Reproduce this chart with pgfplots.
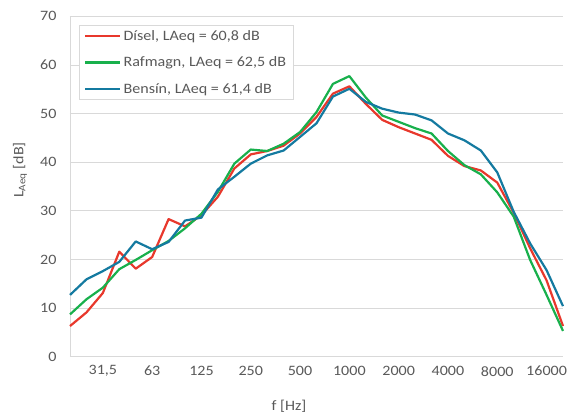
\documentclass[border=0pt]{standalone}
\usepackage{pgfplots}
\pgfplotsset{compat=1.18}
\usepackage{fontspec}
\setmainfont{Carlito}[FakeStretch=1.12]
\definecolor{cred}{RGB}{232,56,44}
\definecolor{cgreen}{RGB}{24,176,76}
\definecolor{cblue}{RGB}{20,122,160}
\definecolor{ctext}{RGB}{89,89,89}
\definecolor{cgrid}{RGB}{217,217,217}
\begin{document}
\begin{tikzpicture}
\path[use as bounding box] (-70bp,-62.3bp) rectangle (499bp,356.7bp);
\begin{axis}[
  at={(0,0)}, anchor=south west,
  scale only axis, width=493bp, height=340.4bp,
  xmin=0, xmax=30, ymin=0, ymax=70,
  xtick={2,5,8,11,14,17,20,23,26,29},
  xticklabels={{31,5},63,125,250,500,1000,2000,4000,8000,16000},
  ytick={0,10,...,70},
  ymajorgrids, grid style={cgrid, line width=0.8bp},
  axis lines=left, axis line style={cgrid, line width=0.8bp, -},
  major tick length=0pt,
  tick label style={font=\fontsize{14.4}{17}\selectfont, text=ctext},
  /pgf/number format/assume math mode=true,
  yticklabel style={anchor=east, xshift=-10bp},
  xticklabel style={anchor=center, yshift=-14.5bp},
  xlabel={f [Hz]}, ylabel={L\textsubscript{Aeq} [dB]},
  label style={font=\fontsize{14.4}{17}\selectfont, text=ctext},
  xlabel style={at={(219bp,-50bp)}, anchor=center},
  ylabel style={at={(-50bp,186.7bp)}, anchor=center},
  legend style={at={(9bp,331.7bp)}, anchor=north west, draw=cgrid, line width=0.8bp,
    font=\fontsize{14.4}{17}\selectfont, text=ctext, inner xsep=5bp, inner ysep=3bp,
    row sep=11bp},
  legend cell align=left,
  legend image code/.code={\draw[#1, line width=2.2bp] (0bp,0bp) -- (35bp,0bp);},
  every axis plot/.append style={line width=2.2bp, line join=round},
  clip=false,
]
\addplot[cred] coordinates {
(0,6.3)(1,9.1)(2,13.1)(3,21.6)(4,18.1)(5,20.5)(6,28.3)(7,26.8)(8,29.1)(9,32.9)
(10,38.7)(11,41.6)(12,42.3)(13,43.4)(14,45.9)(15,49.3)(16,54.1)(17,55.6)(18,52.0)(19,48.7)
(20,47.2)(21,45.9)(22,44.6)(23,41.3)(24,39.2)(25,38.3)(26,35.8)(27,29.6)(28,22.3)(29,15.7)(30,6.3)};
\addlegendentry{Dísel, LAeq = 60,8 dB}
\addplot[cgreen] coordinates {
(0,8.7)(1,11.8)(2,14.2)(3,18.0)(4,19.9)(5,21.9)(6,23.8)(7,26.4)(8,29.4)(9,33.9)
(10,39.7)(11,42.6)(12,42.3)(13,43.8)(14,46.2)(15,50.3)(16,56.1)(17,57.7)(18,53.3)(19,49.6)
(20,48.3)(21,47.0)(22,45.9)(23,42.3)(24,39.4)(25,37.5)(26,33.8)(27,28.8)(28,19.9)(29,12.7)(30,5.3)};
\addlegendentry{Rafmagn, LAeq = 62,5 dB}
\addplot[cblue] coordinates {
(0,12.7)(1,15.9)(2,17.6)(3,19.5)(4,23.7)(5,22.1)(6,23.6)(7,28.0)(8,28.6)(9,34.4)
(10,37.0)(11,39.7)(12,41.4)(13,42.4)(14,45.2)(15,48.0)(16,53.5)(17,55.1)(18,52.4)(19,51.0)
(20,50.2)(21,49.8)(22,48.6)(23,45.9)(24,44.5)(25,42.4)(26,37.9)(27,29.8)(28,23.3)(29,17.8)(30,10.4)};
\addlegendentry{Bensín, LAeq = 61,4 dB}
\end{axis}
\end{tikzpicture}
\end{document}
